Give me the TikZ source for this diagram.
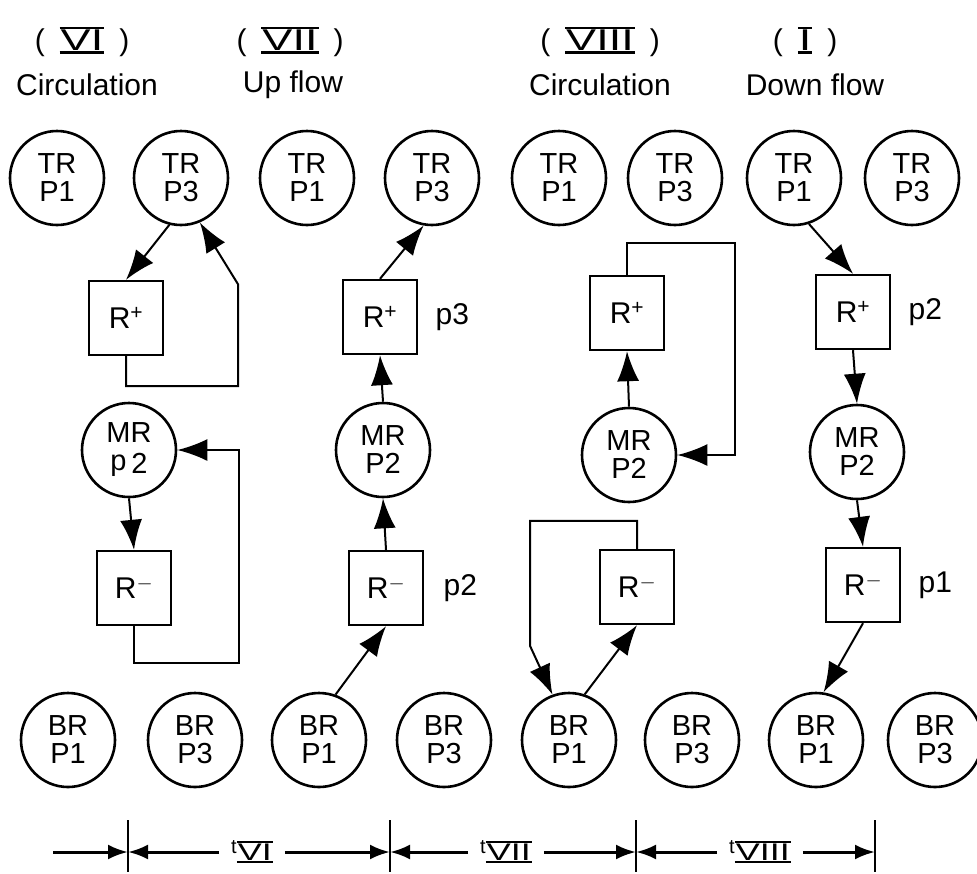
\documentclass[tikz,border=0pt]{standalone}
\usepackage{fontspec}
\setmainfont{Liberation Sans}
\usepackage{graphicx}
\usetikzlibrary{arrows.meta,positioning}
% roman numerals with heavy bars above and below
\newcommand{\rnum}[1]{\raisebox{-3pt}{\vbox{\hrule height 2.6pt\kern0.6pt
  \hbox{\kern1pt\scalebox{1.5}[1]{#1}\kern1pt}\kern0.6pt\hrule height 2.6pt}}}

\begin{document}
\begin{tikzpicture}[x=1pt,y=-1pt,
    vessel/.style={circle,draw,line width=2.6pt,minimum size=94pt,inner sep=0pt,align=center,font=\fontsize{29}{28}\selectfont},
    bed/.style={rectangle,draw,line width=2.4pt,minimum size=74pt,font=\fontsize{30}{30}\selectfont},
    flow/.style={line width=2pt,-{Latex[length=30pt,width=22pt]}},
    span/.style={line width=3pt,-{Latex[length=20pt,width=15pt]}},
    head/.style={font=\fontsize{30}{32}\selectfont},
    side/.style={font=\fontsize{30}{30}\selectfont}]
  \useasboundingbox (0,0) rectangle (977,873);

  % headings
  \node[head] (hvi)   at (82,42)  {(\enspace\rnum{VI}\enspace)};
  \node[head] (svi)   at (87,85)  {Circulation};
  \node[head] (hvii)  at (290,42) {(\enspace\rnum{VII}\enspace)};
  \node[head] (svii)  at (293,85) {Up flow};
  \node[head] (hviii) at (600,42) {(\enspace\rnum{VIII}\enspace)};
  \node[head] (sviii) at (600,85) {Circulation};
  \node[head] (hi)    at (805,42) {(\enspace\rnum{I}\enspace)};
  \node[head] (si)    at (815,85) {Down flow};

  % top and bottom vessels
  \foreach \c/\xa/\xb/\xc/\xd in {a/57/181/68/195, b/307/432/319/444, c/559/675/569/692, d/794/912/816/935} {
    \node[vessel] (tr1\c) at (\xa,178) {TR\\P1};
    \node[vessel] (tr3\c) at (\xb,178) {TR\\P3};
    \node[vessel] (br1\c) at (\xc,740) {BR\\P1};
    \node[vessel] (br3\c) at (\xd,740) {BR\\P3};
  }

  % (VI) circulation
  \node[bed]    (rpa) at (126,318) {R\textsuperscript{+}};
  \node[vessel] (mra) at (129,450) {MR\\p\,\raisebox{-3pt}{2}};
  \node[bed]    (rma) at (134,588) {R\textsuperscript{$-$}};
  \draw[flow] (tr3a.-104) -- (rpa.north);
  \draw[flow] (rpa.south) -- ++(0,30) -- ++(112,0) -- ++(0,-102) -- (tr3a.-67);
  \draw[flow] (mra.south) -- (rma.north);
  \draw[flow] (rma.south) -- ++(0,37) -- ++(105,0) |- (mra.east);

  % (VII) up flow
  \node[bed]    (rpb) at (380,317) {R\textsuperscript{+}};
  \node[bed]    (rmb) at (386,588) {R\textsuperscript{$-$}};
  \node[vessel] (mrb) at (383,450) {MR\\P2};
  \node[side, right=14pt of rpb] (pb3) {p3};
  \node[side, right=16pt of rmb] (pb2) {p2};
  \draw[flow] (br1b.70) -- (rmb.south);
  \draw[flow] (rmb.north) -- (mrb.south);
  \draw[flow] (mrb.north) -- (rpb.south);
  \draw[flow] (rpb.north) -- (tr3b.-100);

  % (VIII) circulation
  \node[bed]    (rpc) at (627,313) {R\textsuperscript{+}};
  \node[vessel] (mrc) at (629,455) {MR\\P2};
  \node[bed]    (rmc) at (637,587) {R\textsuperscript{$-$}};
  \draw[flow] (mrc.north) -- (rpc.south);
  \draw[flow] (rpc.north) -- ++(0,-32) -- ++(108,0) |- (mrc.east);
  \draw[flow] (br1c.71) -- (rmc.south);
  \draw[flow] (rmc.north) -- ++(0,-28) -- ++(-107,0) -- ++(0,125) -- (br1c.110);

  % (I) down flow
  \node[bed]    (rpd) at (853,312) {R\textsuperscript{+}};
  \node[vessel] (mrd) at (857,452) {MR\\P2};
  \node[bed]    (rmd) at (863,585) {R\textsuperscript{$-$}};
  \node[side, right=14pt of rpd] (pd2) {p2};
  \node[side, right=14pt of rmd] (pd1) {p1};
  \draw[flow] (tr1d.-72) -- (rpd.north);
  \draw[flow] (rpd.south) -- (mrd.north);
  \draw[flow] (mrd.south) -- (rmd.north);
  \draw[flow] (rmd.south) -- (br1d.81);

  % time spans
  \foreach \k/\x in {k1/128,k2/390,k3/636,k4/875} {
    \coordinate (\k) at (\x,852);
    \draw[line width=2.4pt] (\k) ++(0,-32) -- ++(0,52);
  }
  \coordinate (k0) at (53,852);
  \begin{scope}[every node/.style={inner sep=12pt,font=\fontsize{24}{24}\selectfont}]
    \node (tvi)   at (252,852) {\raisebox{7pt}{\fontsize{20}{20}\selectfont t}\rnum{VI}};
    \node (tvii)  at (506,852) {\raisebox{7pt}{\fontsize{20}{20}\selectfont t}\rnum{VII}};
    \node (tviii) at (760,852) {\raisebox{7pt}{\fontsize{20}{20}\selectfont t}\rnum{VIII}};
  \end{scope}
  \draw[span] (k0) -- (k1);
  \draw[span] (tvi.west) -- (k1);
  \draw[span] (tvi.east) -- (k2);
  \draw[span] (tvii.west) -- (k2);
  \draw[span] (tvii.east) -- (k3);
  \draw[span] (tviii.west) -- (k3);
  \draw[span] (tviii.east) -- (k4);
\end{tikzpicture}
\end{document}
